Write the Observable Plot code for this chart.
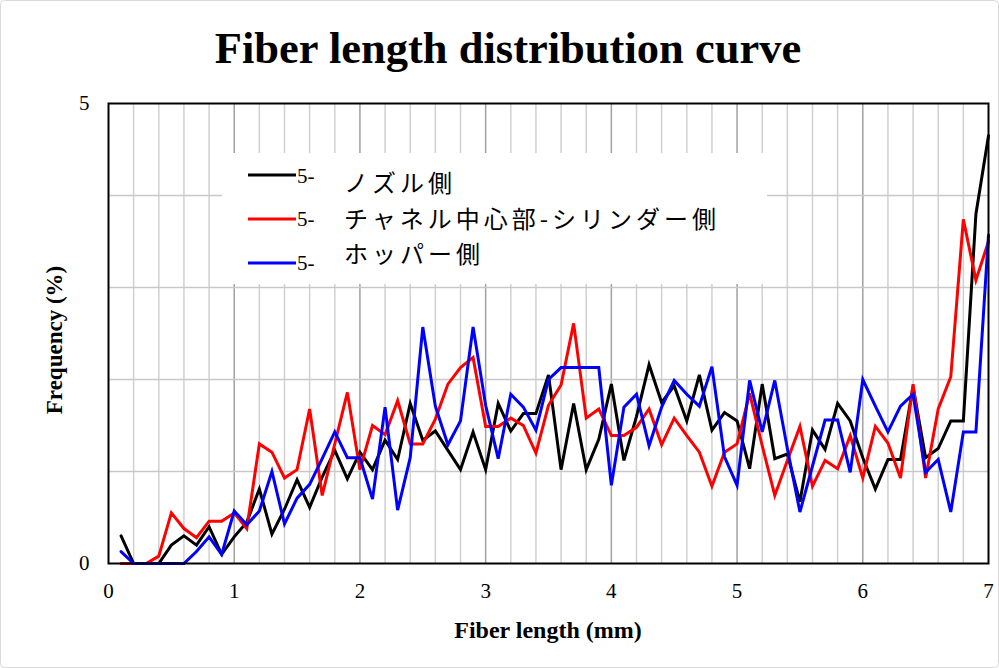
<!DOCTYPE html>
<html>
<head>
<meta charset="utf-8">
<script src="https://cdn.jsdelivr.net/npm/d3@7"></script>
<script src="https://cdn.jsdelivr.net/npm/@observablehq/plot@0.6"></script>
<style>
  html, body { margin: 0; padding: 0; background: #fff; }
  #wrap { position: relative; width: 999px; height: 668px; overflow: hidden; background: #fff; }
  #chart { position: absolute; left: 0; top: 0; }
  #overlay { position: absolute; left: 0; top: 0; pointer-events: none; }
</style>
</head>
<body>
<div id="wrap">
  <div id="chart"></div>
  <svg id="overlay" width="999" height="668"></svg>
</div>
<script>
// ---- data ----
const lengths = [0.1,0.2,0.3,0.4,0.5,0.6,0.7,0.8,0.9,1.0,
  1.1,1.2,1.3,1.4,1.5,1.6,1.7,1.8,1.9,2.0,
  2.1,2.2,2.3,2.4,2.5,2.6,2.7,2.8,2.9,3.0,
  3.1,3.2,3.3,3.4,3.5,3.6,3.7,3.8,3.9,4.0,
  4.1,4.2,4.3,4.4,4.5,4.6,4.7,4.8,4.9,5.0,
  5.1,5.2,5.3,5.4,5.5,5.6,5.7,5.8,5.9,6.0,
  6.1,6.2,6.3,6.4,6.5,6.6,6.7,6.8,6.9,7.0];

const nozzle = [0.30,0,0,0,0.20,0.30,0.20,0.40,0.10,0.29,
  0.45,0.81,0.32,0.59,0.91,0.61,0.94,1.23,0.92,1.21,
  1.02,1.34,1.13,1.74,1.34,1.44,1.23,1.02,1.43,1.02,
  1.74,1.44,1.63,1.63,2.05,1.02,1.74,1.02,1.35,1.95,
  1.12,1.60,2.16,1.75,1.93,1.55,2.05,1.45,1.64,1.55,
  1.03,1.95,1.14,1.19,0.67,1.45,1.24,1.74,1.55,1.15,
  0.81,1.13,1.13,1.92,1.15,1.25,1.55,1.55,3.80,4.65];

const channel = [0,0,0,0.08,0.55,0.38,0.28,0.46,0.46,0.55,
  0.38,1.30,1.21,0.93,1.02,1.68,0.74,1.30,1.86,1.02,
  1.50,1.40,1.77,1.30,1.30,1.57,1.95,2.13,2.24,1.49,
  1.49,1.58,1.50,1.20,1.72,1.94,2.61,1.58,1.68,1.39,
  1.39,1.48,1.68,1.29,1.58,1.39,1.21,0.84,1.21,1.30,
  1.85,1.28,0.74,1.12,1.49,0.84,1.12,1.03,1.39,0.93,
  1.49,1.31,0.93,1.95,0.93,1.68,2.03,3.74,3.08,3.50];

const hopper = [0.13,0,0,0,0,0,0.13,0.29,0.10,0.57,
  0.42,0.57,1.00,0.43,0.71,0.86,1.14,1.43,1.15,1.15,
  0.70,1.70,0.58,1.15,2.57,1.71,1.29,1.55,2.57,1.72,
  1.14,1.84,1.70,1.45,2.00,2.13,2.13,2.13,2.13,0.85,
  1.70,1.84,1.28,1.70,1.99,1.84,1.71,2.14,1.16,0.85,
  1.99,1.43,1.99,1.25,0.56,1.06,1.56,1.56,0.99,2.00,
  1.71,1.43,1.71,1.84,0.99,1.13,0.56,1.43,1.43,3.57];

const seriesPrefix = ["5-", "5-", "5-"];
const seriesLabels = ["ノズル側", "チャネル中心部-シリンダー側", "ホッパー側"];
const seriesColors = ["#000000", "#ff0000", "#0000ff"];
const xTicks = [0, 1, 2, 3, 4, 5, 6, 7];
const yTicks = [0, 5];
const yGrid = [1, 2, 3, 4];
const titleText = "Fiber length distribution curve";
const xLabel = "Fiber length (mm)";
const yLabel = "Frequency (%)";

// ---- build table ----
const seriesNames = seriesLabels.map((l, i) => seriesPrefix[i] + l);
const seriesValues = [nozzle, channel, hopper];
const rows = [];
seriesValues.forEach((vals, s) => {
  vals.forEach((v, i) => rows.push({len: lengths[i], freq: v, series: seriesNames[s]}));
});
const minorGrid = d3.range(1, 35).map(i => i * 0.2).filter(v => Math.abs(v - Math.round(v)) > 1e-6);
const majorGrid = xTicks.slice(1, -1);

const chart = Plot.plot({
  width: 999,
  height: 668,
  marginLeft: 108,
  marginRight: 11,
  marginTop: 103,
  marginBottom: 105,
  style: {fontFamily: "'Liberation Serif', 'Times New Roman', serif", fontSize: "21px", color: "#000", background: "transparent", overflow: "visible"},
  x: {domain: [0, 7], ticks: xTicks, tickSize: 0, tickPadding: 20, label: null, tickFormat: d => String(d)},
  y: {domain: [0, 5], ticks: yTicks, tickSize: 0, tickPadding: 19, label: null, tickFormat: d => String(d)},
  color: {domain: seriesNames, range: seriesColors},
  marks: [
    Plot.ruleX(minorGrid, {stroke: "#d0d0d0", strokeWidth: 1.5}),
    Plot.ruleX(majorGrid, {stroke: "#a0a0a0", strokeWidth: 1.5}),
    Plot.ruleY(yGrid, {stroke: "#c8c8c8", strokeWidth: 1.5}),
    Plot.line(rows, {x: "len", y: "freq", z: "series", stroke: "series", strokeWidth: 3, strokeLinejoin: "miter", strokeMiterlimit: 4}),
    Plot.frame({stroke: "#000", strokeWidth: 2})
  ]
});
document.getElementById("chart").appendChild(chart);

// ---- overlay: title, axis titles, legend ----
const serif = "'Liberation Serif', 'Times New Roman', serif";
const ov = d3.select("#overlay");
ov.append("rect").attr("x", 0.5).attr("y", 0.5).attr("width", 998).attr("height", 667)
  .attr("rx", 4).attr("fill", "none").attr("stroke", "#d9d9d9");
ov.append("text").attr("x", 508).attr("y", 63).attr("text-anchor", "middle")
  .style("font-family", serif).attr("font-weight", "bold")
  .attr("font-size", 44.5).attr("fill", "#000").text(titleText);
ov.append("text").attr("x", 548).attr("y", 638).attr("text-anchor", "middle")
  .style("font-family", serif).attr("font-weight", "bold")
  .attr("font-size", 24).attr("fill", "#000").text(xLabel);
ov.append("text").attr("transform", "translate(62,340) rotate(-90)").attr("text-anchor", "middle")
  .style("font-family", serif).attr("font-weight", "bold")
  .attr("font-size", 23).attr("fill", "#000").text(yLabel);

// legend
const lg = ov.append("g");
lg.append("rect").attr("x", 222).attr("y", 153).attr("width", 545).attr("height", 131).attr("fill", "#fff");
const lineYs = [175, 219, 263];
const preYs = [183, 226, 270];
const txtYs = [192, 228, 263];
seriesLabels.forEach((lab, i) => {
  lg.append("line").attr("x1", 248).attr("x2", 296).attr("y1", lineYs[i]).attr("y2", lineYs[i])
    .attr("stroke", seriesColors[i]).attr("stroke-width", 3);
  lg.append("text").attr("x", 297).attr("y", preYs[i])
    .style("font-family", serif).style("font-size", "21px")
    .attr("fill", "#000").text(seriesPrefix[i]);
  lg.append("text").attr("x", 344).attr("y", txtYs[i])
    .style("font-family", "'Noto Sans CJK JP', 'Noto Sans', sans-serif").style("font-size", "24px")
    .attr("letter-spacing", 4)
    .attr("fill", "#000").text(lab);
});
</script>
</body>
</html>
